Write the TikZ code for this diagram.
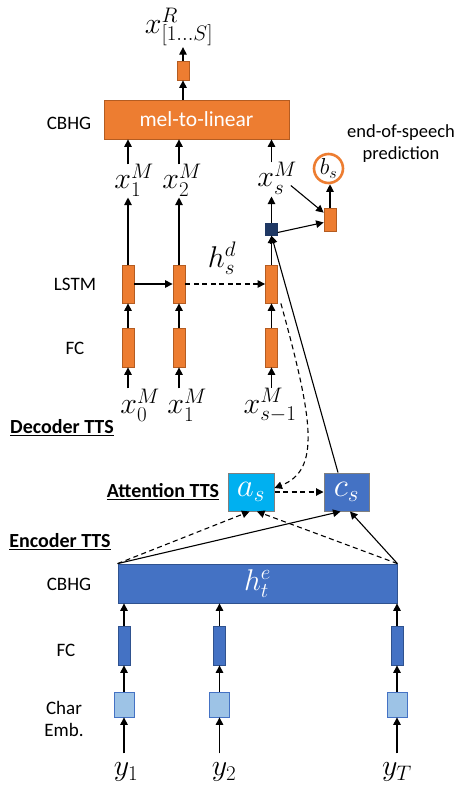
\RequirePackage{fix-cm}
\documentclass[tikz,border=0pt]{standalone}
\usepackage{fontspec}
\setmainfont{Carlito}
\usetikzlibrary{arrows.meta}
\definecolor{orangeF}{RGB}{237,125,49}
\definecolor{orangeD}{RGB}{180,92,33}
\definecolor{blueF}{RGB}{68,114,196}
\definecolor{blueD}{RGB}{47,82,143}
\definecolor{cyanF}{RGB}{0,176,240}
\definecolor{grayB}{RGB}{127,127,127}
\definecolor{navyF}{RGB}{31,56,100}
\definecolor{lightB}{RGB}{157,195,230}
\begin{document}
\begin{tikzpicture}[x=1pt,y=-1pt,
  arr/.style={-{Triangle[length=7.5pt,width=7.5pt]},line width=1.1pt},
  darr/.style={arr,dash pattern=on 5pt off 3.5pt},
  lbl/.style={font=\fontsize{19}{22}\selectfont,inner sep=0pt,align=center},
  ttl/.style={font=\fontsize{20}{22}\selectfont\bfseries,inner sep=0pt},
  mth/.style={font=\fontsize{30}{32}\selectfont,inner sep=1pt},
  obar/.style={draw=orangeD,fill=orangeF,line width=0.8pt,minimum width=12pt,minimum height=38pt,inner sep=0pt},
  bbar/.style={draw=blueD,fill=blueF,line width=0.8pt,minimum width=12pt,minimum height=39pt,inner sep=0pt},
  cemb/.style={draw=blueF,fill=lightB,line width=0.8pt,minimum width=20pt,minimum height=25pt,inner sep=0pt},
  gbox/.style={draw=grayB,line width=1pt,minimum width=46pt,minimum height=38pt,inner sep=0pt,text=white,font=\fontsize{33}{35}\selectfont}
]
\useasboundingbox (0,0) rectangle (465,789);

% ---------- decoder top ----------
\node[mth] (xr) at (179,27) {$x^{R}_{[1\ldots S]}$};
\node[draw=orangeD,fill=orangeF,line width=0.8pt,minimum width=12pt,minimum height=19pt,inner sep=0pt] (outr) at (183,70.5) {};
\node[draw=orangeD,fill=orangeF,line width=0.8pt,minimum width=185pt,minimum height=39pt,inner sep=0pt,text=white,font=\fontsize{21.5}{24}\selectfont] (mel) at (196.5,119.5) {mel-to-linear};
\node[lbl] (cbhgA) at (69,123) {CBHG};

\node[mth] (xm1) at (134,180) {$x^{M}_{1}$};
\node[mth] (xm2) at (182,180) {$x^{M}_{2}$};
\node[mth] (xms) at (277,178) {$x^{M}_{s}$};

\node[circle,draw=orangeF,fill=white,line width=2.6pt,minimum size=29pt,inner sep=0pt,font=\fontsize{23}{25}\selectfont] (bs) at (328.5,168.5) {$b_s$};
\node[lbl,font=\fontsize{18.5}{22}\selectfont] (eos) at (401,144) {end-of-speech\\prediction};

\node[draw=navyF,fill=navyF,minimum size=12pt,inner sep=0pt] (nv) at (271.5,229.5) {};
\node[draw=orangeD,fill=orangeF,line width=0.8pt,minimum width=12pt,minimum height=23pt,inner sep=0pt] (os) at (330,219.5) {};

% ---------- decoder LSTM / FC ----------
\node[lbl] (lstmL) at (75,284) {LSTM};
\node[obar] (l1) at (128,284) {};
\node[obar] (l2) at (179,284) {};
\node[obar] (l3) at (271.5,284) {};
\node[mth] (hsd) at (222,258) {$h^{d}_{s}$};

\node[lbl] (fcL) at (75,348) {FC};
\node[obar,minimum height=39pt] (f1) at (128,347.5) {};
\node[obar,minimum height=39pt] (f2) at (179,347.5) {};
\node[obar,minimum height=39pt] (f3) at (271.5,347.5) {};

\node[mth] (x0) at (140,405) {$x^{M}_{0}$};
\node[mth] (x1b) at (187,405) {$x^{M}_{1}$};
\node[mth] (xs1) at (270,405) {$x^{M}_{s-1}$};

\node[ttl] (dec) at (62,428) {\underline{Decoder TTS}};

% ---------- attention ----------
\node[gbox,fill=cyanF] (as) at (251,492) {$a_s$};
\node[gbox,fill=blueF,minimum width=45pt] (cs) at (346.5,492) {$c_s$};
\node[ttl] (att) at (163,492) {\underline{Attention TTS}};

% ---------- encoder ----------
\node[ttl] (enc) at (60,542) {\underline{Encoder TTS}};
\node[draw=blueD,fill=blueF,line width=0.8pt,minimum width=279pt,minimum height=39pt,inner sep=0pt,text=white,font=\fontsize{30}{32}\selectfont] (he) at (257.5,583.5) {$h^{e}_{t}$};
\node[lbl] (cbhgB) at (69,584) {CBHG};

\node[lbl] (fcE) at (66,650) {FC};
\node[bbar] (e1) at (124,645.5) {};
\node[bbar] (e2) at (219.5,645.5) {};
\node[bbar] (e3) at (397,645.5) {};

\node[lbl] (ceL) at (64,719) {Char\\Emb.};
\node[cemb] (c1) at (124,704.5) {};
\node[cemb] (c2) at (219.5,704.5) {};
\node[cemb] (c3) at (397,704.5) {};

\node[mth] (y1) at (126,772) {$y_1$};
\node[mth] (y2) at (224,772) {$y_2$};
\node[mth] (yT) at (397,772) {$y_T$};

% ---------- connectors: decoder ----------
\draw[arr] (outr.north) -- (outr.north |- xr.south);
\draw[arr] (mel.north -| outr) -- (outr.south);
\draw[arr] ([yshift=-2pt]xm1.north -| l1) -- (mel.south -| l1);
\draw[arr] ([yshift=-2pt]xm2.north -| l2) -- (mel.south -| l2);
\draw[arr] ([yshift=-2pt]xms.north -| l3) -- (mel.south -| l3);

\draw[arr] (l1.north) -- (l1.north |- xm1.south);
\draw[arr] (l2.north) -- (l2.north |- xm2.south);
\draw[arr] (l3.north) -- (nv.south);
\draw[arr] (nv.north) -- ([yshift=-1pt]nv.north |- xms.south);

\draw[arr] ([shift={(-7pt,10pt)}]xms.south east) -- ([yshift=-5pt]os.north west);
\draw[arr] ([yshift=-3pt]nv.east) -- ([yshift=-3pt]os.west);
\draw[arr] (os.north) -- (os.north |- bs.south);

\draw[arr] (l1.east) -- (l2.west);
\draw[darr] (l2.east) -- (l3.west);

\draw[arr] (f1.north) -- (l1.south);
\draw[arr] (f2.north) -- (l2.south);
\draw[arr] (f3.north) -- (l3.south);
\draw[arr] ([yshift=-1pt]x0.north -| f1) -- (f1.south);
\draw[arr] ([yshift=-1pt]x1b.north -| f2) -- (f2.south);
\draw[arr] ([yshift=-1pt]xs1.north -| f3) -- (f3.south);

\draw[arr] ([xshift=-8.5pt]cs.north) -- (nv.south);
\draw[darr] ([xshift=3pt]l3.south east) .. controls (313,420) and (321,470) .. ([yshift=4pt]as.east);

% ---------- connectors: attention / encoder ----------
\draw[darr] (as.east) -- (cs.west);
\draw[darr] (he.north west) -- ([xshift=-1.5pt]as.south);
\draw[darr] (he.north east) -- ([xshift=6pt]as.south);
\draw[arr] (he.north west) -- ([xshift=-6pt]cs.south);
\draw[arr] (he.north east) -- ([xshift=3.5pt]cs.south);

\draw[arr] (e1.north) -- (he.south -| e1);
\draw[arr] (e2.north) -- (he.south -| e2);
\draw[arr] (e3.north) -- (he.south -| e3);
\draw[arr] (c1.north) -- (e1.south);
\draw[arr] (c2.north) -- (e2.south);
\draw[arr] (c3.north) -- (e3.south);
\draw[arr] ([yshift=8pt]y1.north -| c1) -- (c1.south);
\draw[arr] ([yshift=8pt]y2.north -| c2) -- (c2.south);
\draw[arr] ([yshift=8pt]yT.north -| c3) -- (c3.south);
\end{tikzpicture}
\end{document}
